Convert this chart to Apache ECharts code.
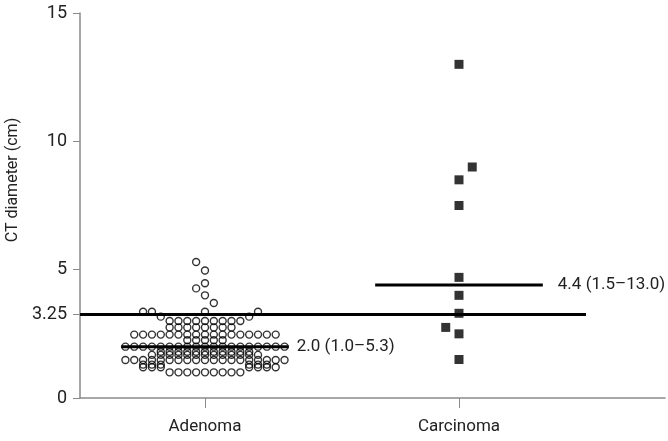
<!DOCTYPE html>
<html>
<head>
<meta charset="utf-8">
<script src="https://cdn.jsdelivr.net/npm/echarts@6/dist/echarts.min.js"></script>
<style>
  html, body { margin: 0; padding: 0; background: #fff; }
  #chart { width: 668px; height: 441px; }
</style>
</head>
<body>
<div id="chart"></div>
<script>
// categories on the x axis (1 = Adenoma, 2 = Carcinoma)
var categories = ['Adenoma', 'Carcinoma'];
var yTicks = [0, 3.25, 5, 10, 15];
var cutoff = 3.25;

// adenoma dot plot: [value, first slot, last slot] - one ring per slot
var adenomaRows = [
    [5.3, -1, -1],
    [4.97, 0, 0],
    [4.47, 0, 0],
    [4.27, -1, -1],
    [4.0, 0, 0],
    [3.7, 1, 1],
    [3.36, -7, -6],
    [3.36, 0, 0],
    [3.36, 6, 6],
    [3.17, -5, -5],
    [3.17, 5, 5],
    [3.0, -4, 4],
    [2.75, -4, 3],
    [2.47, -8, 8],
    [2.25, -2, 2],
    [2.0, -9, 9],
    [1.8, -5, 5],
    [1.68, -6, 6],
    [1.48, -9, 9],
    [1.3, -7, -5],
    [1.3, 5, 7],
    [1.2, -7, -5],
    [1.2, 5, 8],
    [1.0, -4, 4]
];

// carcinoma values and sideways shift (in slots)
var carcinomaValues = [13.0, 9.0, 8.5, 7.5, 4.7, 4.0, 3.3, 2.75, 2.5, 1.5];
var carcinomaShift = [0, 1.5, 0, 0, 0, 0, 0, -1.5, 0, 0];

// medians and their labels
var medians = [2.0, 4.4];
var medianLabels = ['2.0 (1.0\u20135.3)', '4.4 (1.5\u201313.0)'];

var slot = 0.0348;
var halfWidth = 0.33;
var font = 'Roboto, sans-serif';

var adenomaData = [];
adenomaRows.forEach(function (r) {
    for (var s = r[1]; s <= r[2]; s++) {
        adenomaData.push([1 + s * slot, r[0]]);
    }
});
var carcinomaData = carcinomaValues.map(function (v, i) {
    return [2 + carcinomaShift[i] * slot, v];
});

function medianSeries(i, dist) {
    var c = i + 1;
    return {
        type: 'line',
        data: [[c - halfWidth, medians[i]], [c + halfWidth, medians[i]]],
        symbol: 'none',
        lineStyle: { color: '#000', width: 3 },
        z: 5,
        endLabel: {
            show: true,
            formatter: medianLabels[i],
            distance: dist,
            color: '#222',
            fontSize: 17,
            fontFamily: font
        }
    };
}

var myChart = echarts.init(document.getElementById('chart'));
var option = {
    animation: false,
    grid: { left: 80, right: 3, top: 13, bottom: 43 },
    xAxis: {
        type: 'value',
        min: 0.508,
        max: 2.811,
        splitLine: { show: false },
        axisLine: { lineStyle: { color: '#8a8a8a', width: 1.5 } },
        axisTick: { customValues: [1, 2], length: 10, lineStyle: { color: '#8a8a8a' } },
        axisLabel: {
            customValues: [1, 2],
            formatter: function (v) { return categories[Math.round(v) - 1]; },
            margin: 20,
            color: '#222',
            fontSize: 17,
            fontFamily: font
        }
    },
    yAxis: {
        type: 'value',
        min: 0,
        max: 15,
        splitLine: { show: false },
        axisLine: { show: true, lineStyle: { color: '#8a8a8a', width: 1.5 } },
        axisTick: { show: true, customValues: yTicks, length: 7, lineStyle: { color: '#8a8a8a' } },
        axisLabel: {
            customValues: yTicks,
            margin: 13,
            color: '#222',
            fontSize: 18,
            fontFamily: font
        }
    },
    graphic: [{
        type: 'text',
        x: 13,
        y: 180,
        rotation: Math.PI / 2,
        style: {
            text: 'CT diameter (cm)',
            fill: '#222',
            fontSize: 16,
            fontFamily: font,
            align: 'center',
            verticalAlign: 'middle'
        }
    }],
    series: [
        {
            type: 'line',
            data: [[0.508, cutoff], [2.5, cutoff]],
            symbol: 'none',
            lineStyle: { color: '#000', width: 3 },
            z: 5
        },
        medianSeries(0, 8),
        medianSeries(1, 15),
        {
            type: 'scatter',
            data: adenomaData,
            symbol: 'circle',
            symbolSize: 7,
            itemStyle: { color: 'rgba(0,0,0,0)', borderColor: '#000', borderWidth: 1.4 },
            z: 3
        },
        {
            type: 'scatter',
            data: carcinomaData,
            symbol: 'rect',
            symbolSize: 9,
            itemStyle: { color: '#000' },
            z: 3
        }
    ]
};
myChart.setOption(option);
</script>
</body>
</html>
